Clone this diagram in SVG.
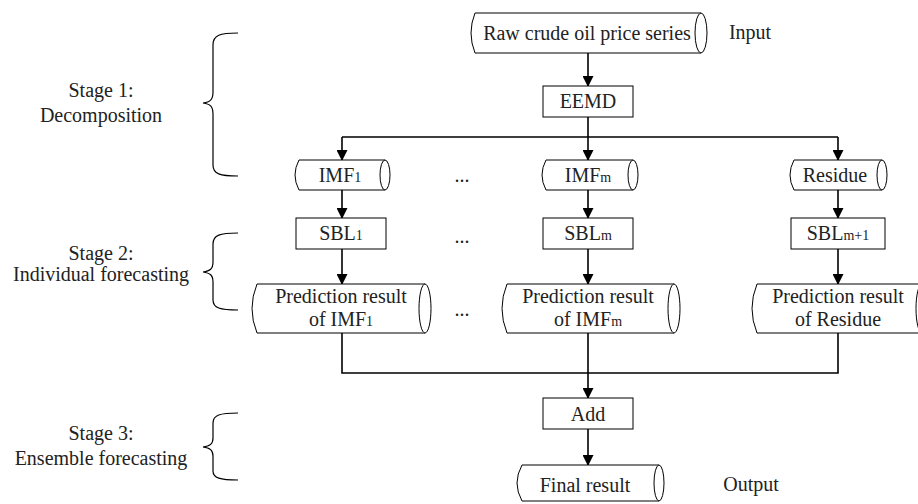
<svg xmlns="http://www.w3.org/2000/svg" width="918" height="504" viewBox="0 0 918 504" font-family="'Liberation Serif', serif">
<defs>
<marker id="ah" markerWidth="11" markerHeight="11" refX="10" refY="5.5" orient="auto" markerUnits="userSpaceOnUse">
<path d="M0,0 L11,5.5 L0,11 Z" fill="#000"/>
</marker>
<style>
text{font-family:'Liberation Serif', serif;font-size:20px;fill:#222;text-anchor:middle}
.sub{font-size:14px}
.shape{fill:#fff;stroke:#000;stroke-width:1}
.conn{fill:none;stroke:#000;stroke-width:1.6}
.brace{fill:none;stroke:#000;stroke-width:1.2}
</style>
</defs>
<rect width="918" height="504" fill="#fff"/>

<g id="connectors">
<path class="conn" d="M588,53 V86" marker-end="url(#ah)"/>
<path class="conn" d="M588,117 V137 M342,137 H838"/>
<path class="conn" d="M342,137 V160" marker-end="url(#ah)"/>
<path class="conn" d="M588,137 V160" marker-end="url(#ah)"/>
<path class="conn" d="M838,137 V160" marker-end="url(#ah)"/>
<path class="conn" d="M342,190 V218" marker-end="url(#ah)"/>
<path class="conn" d="M588,190 V218" marker-end="url(#ah)"/>
<path class="conn" d="M838,190 V218" marker-end="url(#ah)"/>
<path class="conn" d="M342,249 V284" marker-end="url(#ah)"/>
<path class="conn" d="M588,249 V284" marker-end="url(#ah)"/>
<path class="conn" d="M838,249 V284" marker-end="url(#ah)"/>
<path class="conn" d="M342,333 V373 H838 V333 M588,333 V373"/>
<path class="conn" d="M588,373 V398" marker-end="url(#ah)"/>
<path class="conn" d="M588,429 V465" marker-end="url(#ah)"/>
</g>

<g id="raw">
<path class="shape" d="M701,13 H475 Q467,33 475,53 H701"/>
<ellipse class="shape" cx="701" cy="33" rx="6" ry="20"/>
<text x="587" y="40">Raw crude oil price series</text>
</g>
<text id="input" x="750" y="39">Input</text>

<g id="eemd">
<rect class="shape" x="543" y="86" width="90" height="31"/>
<text x="588" y="108">EEMD</text>
</g>

<g id="imf1">
<path class="shape" d="M385,160 H299 Q291,175 299,190 H385"/>
<ellipse class="shape" cx="385" cy="175" rx="5" ry="15"/>
<text x="340" y="182">IMF<tspan class="sub">1</tspan></text>
</g>
<g id="imfm">
<path class="shape" d="M633,160 H546 Q538,175 546,190 H633"/>
<ellipse class="shape" cx="633" cy="175" rx="5" ry="15"/>
<text x="588" y="182">IMF<tspan class="sub">m</tspan></text>
</g>
<g id="residue">
<path class="shape" d="M882,160 H794 Q786,175 794,190 H882"/>
<ellipse class="shape" cx="882" cy="175" rx="5" ry="15"/>
<text x="835" y="182">Residue</text>
</g>

<g id="sbl1">
<rect class="shape" x="296" y="218" width="90" height="31"/>
<text x="341" y="240">SBL<tspan class="sub">1</tspan></text>
</g>
<g id="sblm">
<rect class="shape" x="543" y="218" width="90" height="31"/>
<text x="588" y="240">SBL<tspan class="sub">m</tspan></text>
</g>
<g id="sblm1">
<rect class="shape" x="791" y="218" width="94" height="31"/>
<text x="838" y="240">SBL<tspan class="sub">m+1</tspan></text>
</g>

<g id="pred1">
<path class="shape" d="M425,284 H257 Q247,308.5 257,333 H425"/>
<ellipse class="shape" cx="425" cy="308.5" rx="6" ry="24.5"/>
<text x="341" y="303">Prediction result</text>
<text x="341" y="326">of IMF<tspan class="sub">1</tspan></text>
</g>
<g id="predm">
<path class="shape" d="M674,284 H507 Q497,308.5 507,333 H674"/>
<ellipse class="shape" cx="674" cy="308.5" rx="6" ry="24.5"/>
<text x="588" y="303">Prediction result</text>
<text x="588" y="326">of IMF<tspan class="sub">m</tspan></text>
</g>
<g id="predres">
<path class="shape" d="M922,284 H757 Q747,308.5 757,333 H922"/>
<ellipse class="shape" cx="922" cy="308.5" rx="6" ry="24.5"/>
<text x="838" y="303">Prediction result</text>
<text x="838" y="326">of Residue</text>
</g>

<g id="dots">
<text x="462" y="182">...</text>
<text x="462" y="243">...</text>
<text x="462" y="316">...</text>
</g>

<g id="add">
<rect class="shape" x="543" y="398" width="90" height="31"/>
<text x="588" y="421">Add</text>
</g>

<g id="final">
<path class="shape" d="M659,465 H522 Q512,483 522,501 H659"/>
<ellipse class="shape" cx="659" cy="483" rx="5" ry="18"/>
<text x="585" y="492">Final result</text>
</g>
<text id="output" x="751" y="491">Output</text>

<g id="stage1">
<path class="brace" d="M238,33 C220,33 213,35 213,45 V92 C213,100 210,102 203,103 C210,104 213,106 213,114 V165 C213,174 220,176 238,176"/>
<text x="101" y="97">Stage 1:</text>
<text x="101" y="122">Decomposition</text>
</g>
<g id="stage2">
<path class="brace" d="M238,233 C220,233 213,235 213,244 V262 C213,269 210,271 203,272 C210,273 213,275 213,282 V300 C213,308 220,310 238,310"/>
<text x="101" y="260">Stage 2:</text>
<text x="101" y="281">Individual forecasting</text>
</g>
<g id="stage3">
<path class="brace" d="M238,413 C220,413 213,415 213,423 V438 C213,444 210,446 203,447 C210,448 213,450 213,456 V471 C213,478 220,480 238,480"/>
<text x="101" y="440">Stage 3:</text>
<text x="101" y="465">Ensemble forecasting</text>
</g>
</svg>
